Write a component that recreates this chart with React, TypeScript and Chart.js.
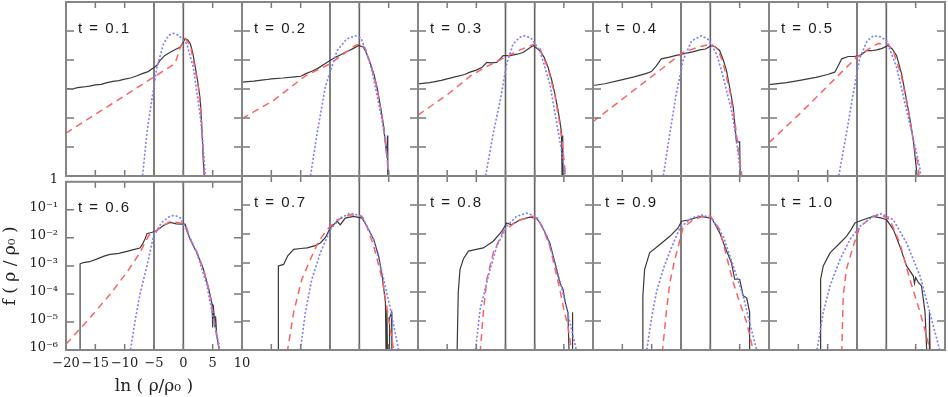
import React, { useEffect, useRef } from 'react';
import { Chart, registerables } from 'chart.js';

Chart.register(...registerables);

// Each point: [ln(rho/rho0), log10 f]
type Pt = [number, number];

const panelTimes = ['0.1', '0.2', '0.3', '0.4', '0.5', '0.6', '0.7', '0.8', '0.9', '1.0'];
const refLineValues = [-5, 0];
const xTickValues = [-20, -15, -10, -5, 0, 5, 10];
const xTickLabels = ['−20', '−15', '−10', '−5', '0', '5', '10'];
const yTickValues = [1e-6, 1e-5, 1e-4, 1e-3, 1e-2, 1e-1, 1];
const yTickLabels = ['10⁻⁶', '10⁻⁵', '10⁻⁴', '10⁻³', '10⁻²', '10⁻¹', '1'];
const xTitle = 'ln ( ρ/ρ₀ )';
const yTitle = 'f ( ρ / ρ₀ )';

// t = 0.1
const black01: Pt[] = [[-20, -2.98], [-19, -3.0], [-18, -2.95], [-17, -2.93], [-16, -2.9], [-15, -2.86], [-14, -2.84], [-13, -2.78], [-12, -2.74], [-11, -2.71], [-10, -2.66], [-9, -2.62], [-8, -2.55], [-7, -2.47], [-6, -2.4], [-5, -2.26], [-4.5, -2.18], [-4, -2.02], [-3.2, -1.85], [-2.3, -1.74], [-1.2, -1.62], [-0.5, -1.55], [0, -1.38], [0.3, -1.26], [0.8, -1.32], [1.2, -1.45], [1.6, -1.75], [2.0, -2.2], [2.5, -2.8], [2.9, -3.4], [3.2, -4.5], [3.4, -5.5], [3.6, -6.1]];
const red01: Pt[] = [[-20, -4.52], [-1.4, -2.12], [-0.5, -1.55], [0.3, -1.26], [1.2, -1.5], [2.0, -2.3], [2.6, -3.0], [3.0, -3.8], [3.3, -4.8], [3.5, -5.6], [3.7, -6.1]];
const blue01: Pt[] = [[-7.0, -6.1], [-6.2, -4.5], [-5.4, -3.4], [-4.5, -2.26], [-3.4, -1.45], [-2.5, -1.15], [-1.7, -1.08], [-0.8, -1.15], [0.6, -1.45], [1.7, -2.26], [2.9, -3.97], [3.3, -4.8], [3.7, -5.9], [3.9, -6.3]];

// t = 0.2
const black02: Pt[] = [[-20, -2.76], [-18, -2.73], [-16, -2.68], [-15, -2.65], [-13, -2.62], [-11, -2.58], [-10, -2.56], [-9.2, -2.48], [-8, -2.38], [-7, -2.28], [-6, -2.15], [-5, -2.02], [-4, -1.9], [-3, -1.8], [-2.5, -1.74], [-2, -1.7], [-1, -1.6], [-0.1, -1.5], [0.7, -1.56], [1.3, -1.8], [1.9, -2.13], [2.5, -2.5], [3.0, -2.93], [3.6, -3.6], [4.15, -4.3], [4.7, -5.33], [4.8, -4.6], [4.85, -6.1], [5.0, -6.1]];
const red02: Pt[] = [[-20, -4.02], [-14.6, -3.39], [-9.2, -2.55], [-5, -2.13], [-0.7, -1.5], [0.2, -1.43], [1.0, -1.6], [1.9, -2.13], [3.0, -2.95], [4.15, -4.3], [4.7, -5.3], [5.0, -6.1]];
const blue02: Pt[] = [[-8.4, -6.1], [-7.2, -4.53], [-5.8, -2.93], [-3.8, -1.68], [-2.2, -1.28], [-0.7, -1.16], [0.3, -1.25], [1.3, -1.8], [2.2, -2.4], [3.0, -3.2], [3.8, -4.0], [4.4, -4.76], [5.1, -6.1]];

// t = 0.3
const black03: Pt[] = [[-20, -2.82], [-18, -2.78], [-16, -2.7], [-14, -2.6], [-12, -2.5], [-11.1, -2.42], [-10, -2.35], [-9, -2.25], [-8.2, -2.08], [-7.5, -2.1], [-6.5, -2.08], [-5.4, -1.85], [-4.2, -1.85], [-3, -1.8], [-2.0, -1.74], [-1, -1.6], [-0.25, -1.5], [0.9, -1.68], [1.6, -1.9], [2.3, -2.25], [3.0, -2.75], [3.45, -3.16], [4.0, -3.73], [4.4, -4.2], [4.6, -4.53], [4.7, -6.1], [4.8, -4.6], [4.9, -6.1]];
const red03: Pt[] = [[-20, -3.9], [-15, -3.2], [-11, -2.55], [-8, -2.2], [-5, -1.9], [-2.5, -1.65], [0, -1.45], [0.9, -1.6], [2.3, -2.3], [3.45, -3.2], [4.3, -4.2], [4.8, -5.0], [5.2, -5.8], [5.4, -6.1]];
const blue03: Pt[] = [[-8.5, -6.1], [-7.1, -4.53], [-5.9, -3.39], [-4.8, -2.13], [-3.7, -1.45], [-2.6, -1.22], [-1.7, -1.16], [-0.6, -1.25], [0.9, -1.68], [2.6, -2.82], [3.7, -4.08], [4.5, -5.0], [5.2, -5.9], [5.4, -6.2]];

// t = 0.4
const black04: Pt[] = [[-20, -2.88], [-18, -2.82], [-15.5, -2.7], [-13, -2.58], [-11, -2.47], [-10.05, -2.4], [-9.2, -2.2], [-8.35, -1.96], [-7, -1.9], [-6, -1.85], [-4.65, -1.79], [-3, -1.72], [-1.8, -1.65], [-0.8, -1.62], [0.2, -1.5], [0.9, -1.55], [1.6, -1.68], [2.2, -2.0], [2.75, -2.36], [3.3, -2.95], [3.9, -3.62], [4.45, -4.82], [5.0, -4.82], [5.1, -6.1]];
const red04: Pt[] = [[-20, -4.13], [-15, -3.35], [-10, -2.57], [-4.65, -1.74], [-2, -1.55], [0.2, -1.45], [1.2, -1.62], [2.2, -2.1], [3.3, -3.05], [4.3, -4.3], [5.3, -5.9], [5.4, -6.1]];
const blue04: Pt[] = [[-8.1, -6.1], [-6.9, -4.53], [-5.8, -3.16], [-4.65, -2.02], [-3.2, -1.34], [-1.5, -1.16], [-0.3, -1.3], [1.05, -1.79], [1.9, -2.36], [2.75, -3.05], [3.6, -3.73], [4.45, -4.76], [5.0, -5.67], [5.3, -6.2]];

// t = 0.5
const black05: Pt[] = [[-20, -2.85], [-17, -2.78], [-14.75, -2.7], [-12, -2.6], [-10, -2.5], [-8.8, -2.42], [-8.2, -2.2], [-7.6, -1.96], [-6.5, -1.88], [-5.5, -1.88], [-4.5, -1.85], [-3.4, -1.68], [-2.5, -1.68], [-1.65, -1.65], [-0.7, -1.6], [0.3, -1.5], [1.0, -1.62], [1.75, -1.85], [2.6, -2.48], [3.45, -3.39], [4.0, -4.0], [4.6, -4.76], [5.2, -5.9], [5.3, -6.1]];
const red05: Pt[] = [[-20, -4.85], [-15, -3.9], [-10, -2.9], [-5.1, -1.91], [-2.5, -1.55], [-1.4, -1.43], [0.3, -1.45], [1.2, -1.7], [2.5, -2.5], [3.75, -3.73], [4.6, -4.8], [5.45, -5.67], [5.6, -6.1]];
const blue05: Pt[] = [[-8.2, -6.1], [-6.8, -4.53], [-5.65, -3.16], [-4.5, -1.91], [-3.3, -1.35], [-2.2, -1.16], [-1.0, -1.2], [0.05, -1.34], [1.75, -2.25], [3.45, -3.73], [4.9, -4.99], [5.7, -5.7], [5.9, -6.1]];

// t = 0.6
const black06: Pt[] = [[-17.6, -6.1], [-17.6, -2.93], [-17.05, -2.88], [-16, -2.85], [-14.8, -2.76], [-13.5, -2.65], [-12.5, -2.59], [-11, -2.55], [-9.6, -2.48], [-8.5, -2.42], [-7.4, -2.36], [-6.9, -2.2], [-6.5, -2.02], [-6.2, -1.85], [-5.3, -1.8], [-4.5, -1.74], [-3.4, -1.56], [-2.25, -1.45], [-1.2, -1.5], [-0.25, -1.51], [0.3, -1.51], [0.7, -1.8], [1.2, -2.08], [2.3, -2.53], [3.4, -3.1], [4.3, -3.79], [4.9, -4.36], [5.0, -5.2], [5.1, -4.4], [5.4, -5.16], [5.5, -4.8], [5.7, -5.5], [6.0, -5.85], [6.1, -6.1]];
const red06: Pt[] = [[-20, -5.79], [-16.5, -4.99], [-12.5, -4.02], [-9.6, -3.22], [-7.4, -2.53], [-5.9, -1.91], [-4.5, -1.72], [-3.4, -1.56], [-2.25, -1.42], [-0.25, -1.48], [0.5, -1.6], [1.2, -2.05], [2.3, -2.5], [3.4, -3.1], [4.3, -3.8], [5.0, -4.6], [5.5, -5.3], [6.0, -5.85], [6.2, -6.1]];
const blue06: Pt[] = [[-9.1, -6.1], [-8.2, -4.93], [-7.4, -4.02], [-6.2, -2.99], [-5.1, -1.96], [-3.7, -1.45], [-2.25, -1.22], [-1.4, -1.2], [-0.55, -1.28], [0.6, -1.74], [2.3, -2.53], [4.0, -3.67], [5.15, -4.93], [6.0, -5.73], [6.3, -6.1]];

// t = 0.7
const black07: Pt[] = [[-13.8, -6.1], [-13.8, -3.1], [-12.9, -3.05], [-12.2, -2.75], [-11.2, -2.53], [-10, -2.5], [-8.9, -2.48], [-7.5, -2.4], [-6.65, -2.31], [-5.8, -2.13], [-4.95, -1.79], [-3.8, -1.56], [-3.25, -1.68], [-2.4, -1.45], [-1.0, -1.39], [0.45, -1.45], [1.3, -1.74], [2.45, -2.19], [3.3, -2.76], [3.9, -3.45], [4.45, -4.36], [4.55, -6.1], [4.7, -4.6], [4.8, -6.1], [5.1, -6.1], [5.15, -4.9], [5.5, -4.7], [5.55, -6.1]];
const red07: Pt[] = [[-12.3, -6.1], [-11.2, -4.7], [-9.8, -3.56], [-8.35, -2.88], [-6.95, -2.25], [-5.5, -1.85], [-3.8, -1.51], [-1.55, -1.34], [0.45, -1.39], [1.3, -1.75], [2.45, -2.42], [3.9, -3.56], [5.0, -4.93], [5.85, -6.0], [6.0, -6.1]];
const blue07: Pt[] = [[-10.1, -6.1], [-9.2, -4.7], [-8.1, -3.56], [-6.65, -2.65], [-4.95, -1.85], [-3.25, -1.45], [-1.55, -1.28], [0.45, -1.39], [2.45, -2.19], [4.15, -3.56], [5.3, -4.59], [6.7, -6.0], [6.8, -6.1]];

// t = 0.8
const black08: Pt[] = [[-13.3, -6.1], [-13.1, -4.0], [-12.8, -3.22], [-12.2, -2.85], [-11.35, -2.59], [-10, -2.53], [-8.8, -2.48], [-7.1, -2.25], [-5.65, -1.91], [-5.0, -1.7], [-4.8, -1.62], [-3.95, -1.68], [-2.5, -1.51], [-0.8, -1.42], [0.3, -1.45], [1.15, -1.68], [2.6, -2.31], [3.45, -2.99], [4.3, -3.67], [4.85, -3.9], [5.3, -4.4], [5.7, -4.7], [5.9, -6.1], [6.4, -6.1], [6.45, -4.7], [6.55, -6.1]];
const red08: Pt[] = [[-9.35, -6.1], [-8.8, -4.7], [-8.2, -3.56], [-7.1, -2.65], [-5.4, -1.91], [-3.1, -1.56], [-0.4, -1.39], [0.6, -1.5], [1.5, -1.85], [2.6, -2.42], [4.3, -3.9], [5.1, -4.7], [5.7, -5.16], [6.3, -6.0], [6.4, -6.1]];
const blue08: Pt[] = [[-10.2, -6.1], [-9.35, -4.59], [-7.65, -3.22], [-6.5, -2.42], [-4.8, -1.74], [-3.1, -1.39], [-1.4, -1.28], [0.3, -1.39], [2.0, -2.02], [3.75, -3.16], [5.45, -4.53], [7.15, -6.0], [7.3, -6.1]];

// t = 0.9
const black09: Pt[] = [[-11.5, -6.1], [-11.5, -4.13], [-11.2, -3.22], [-10.35, -2.65], [-8.6, -2.36], [-6.9, -2.08], [-5.5, -1.79], [-4.9, -1.56], [-3.5, -1.51], [-1.8, -1.39], [0.2, -1.45], [0.9, -1.7], [1.6, -1.96], [2.45, -2.42], [3.6, -2.99], [4.15, -3.56], [5.0, -3.56], [5.6, -4.13], [6.2, -4.2], [6.7, -4.7], [6.7, -6.1]];
const red09: Pt[] = [[-8.2, -6.1], [-7.5, -4.7], [-6.9, -3.67], [-6.05, -2.88], [-4.65, -1.79], [-2.95, -1.51], [-1.25, -1.39], [0.05, -1.39], [1.6, -1.85], [2.75, -2.76], [3.9, -3.67], [5.0, -4.36], [6.2, -5.05], [7.3, -6.0], [7.4, -6.1]];
const blue09: Pt[] = [[-10.9, -6.1], [-10.05, -4.93], [-9.2, -4.02], [-8.05, -3.22], [-6.65, -2.48], [-5.2, -1.79], [-3.2, -1.45], [-1.25, -1.34], [0.4, -1.51], [2.2, -2.08], [3.9, -3.1], [5.6, -4.13], [6.7, -5.05], [7.9, -6.0], [8.0, -6.1]];

// t = 1.0
const black10: Pt[] = [[-11.2, -6.1], [-11.2, -3.56], [-10.75, -3.1], [-9.6, -2.65], [-7.9, -2.31], [-6.8, -2.08], [-6.0, -1.85], [-5.35, -1.62], [-3.95, -1.51], [-2.25, -1.39], [-0.8, -1.45], [0.05, -1.51], [1.2, -1.85], [2.3, -2.42], [3.45, -3.1], [4.6, -3.45], [4.8, -3.7], [5.0, -3.5], [5.45, -3.67], [6.0, -3.79], [6.6, -4.7], [6.9, -6.1], [7.3, -6.1], [7.35, -4.7], [7.45, -6.1]];
const red10: Pt[] = [[-7.6, -6.1], [-7.35, -4.13], [-6.8, -3.22], [-5.65, -2.42], [-4.5, -1.74], [-2.25, -1.39], [-1.1, -1.31], [0.6, -1.51], [2.3, -2.31], [4.0, -3.56], [5.75, -4.7], [6.85, -5.5], [7.4, -6.0], [7.5, -6.1]];
const blue10: Pt[] = [[-11.9, -6.1], [-10.75, -4.7], [-9.6, -3.79], [-7.9, -2.88], [-6.2, -2.19], [-4.5, -1.74], [-2.25, -1.39], [-0.8, -1.3], [1.2, -1.51], [3.45, -2.31], [5.75, -3.45], [7.4, -4.7], [9.1, -6.0], [9.2, -6.1]];

const blackSeries = [black01, black02, black03, black04, black05, black06, black07, black08, black09, black10];
const redSeries = [red01, red02, red03, red04, red05, red06, red07, red08, red09, red10];
const blueSeries = [blue01, blue02, blue03, blue04, blue05, blue06, blue07, blue08, blue09, blue10];

// layout (page pixels)
const colEdges = [66, 242, 418, 593, 769, 945];
const rowEdges = [2, 176, 350];

const toXY = (pts: Pt[]) => pts.map(([x, l]) => ({ x, y: Math.pow(10, l) }));

function Panel({ idx }: { idx: number }) {
  const ref = useRef<HTMLCanvasElement>(null);
  const col = idx % 5;
  const row = Math.floor(idx / 5);
  const L = colEdges[col];
  const R = colEdges[col + 1];
  const T = rowEdges[row];
  const B = rowEdges[row + 1];
  const labeled = col === 0 && row === 1;
  // labeled panel: canvas symmetric about the plot so axis titles centre on the plot
  const pad = labeled ? { left: 0, top: 10, right: L, bottom: 0 } : { left: 4, top: 4, right: 4, bottom: 4 };
  const cLeft = labeled ? 0 : L - 4;
  const cTop = T - pad.top;
  const cW = labeled ? R + L : R - L + 8;
  const cH = labeled ? 397 - cTop : B - T + 8;

  useEffect(() => {
    const canvas = ref.current;
    if (!canvas) return;
    const label = 't = ' + panelTimes[idx];
    const decor = {
      id: 'decor',
      beforeDatasetsDraw(chart: any) {
        const { ctx, chartArea: a, scales } = chart;
        ctx.save();
        ctx.strokeStyle = '#606060';
        ctx.lineWidth = 1.6;
        for (const v of refLineValues) {
          const px = scales.x.getPixelForValue(v);
          ctx.beginPath();
          ctx.moveTo(px, a.top);
          ctx.lineTo(px, a.bottom);
          ctx.stroke();
        }
        ctx.restore();
      },
      afterDatasetsDraw(chart: any) {
        const { ctx, chartArea: a, scales } = chart;
        ctx.save();
        ctx.strokeStyle = '#7a7a7a';
        ctx.lineWidth = 1.5;
        for (const v of xTickValues) {
          const px = scales.x.getPixelForValue(v);
          if (px <= a.left + 1 || px >= a.right - 1) continue;
          ctx.beginPath();
          ctx.moveTo(px, a.bottom);
          ctx.lineTo(px, a.bottom - 6);
          ctx.moveTo(px, a.top);
          ctx.lineTo(px, a.top + 6);
          ctx.stroke();
        }
        for (const v of yTickValues) {
          const py = scales.y.getPixelForValue(v);
          if (py <= a.top + 1 || py >= a.bottom - 1) continue;
          ctx.beginPath();
          ctx.moveTo(a.left, py);
          ctx.lineTo(a.left + 8, py);
          ctx.moveTo(a.right, py);
          ctx.lineTo(a.right - 8, py);
          ctx.stroke();
        }
        ctx.strokeStyle = '#858585';
        ctx.lineWidth = 2;
        ctx.strokeRect(a.left, a.top, a.right - a.left, a.bottom - a.top);
        ctx.fillStyle = '#1a1a1a';
        ctx.font = '15px "Liberation Sans", Arial, sans-serif';
        try { (ctx as any).letterSpacing = '1.5px'; } catch (e) {}
        ctx.textBaseline = 'alphabetic';
        ctx.textAlign = 'left';
        ctx.fillText(label, a.left + 12, a.top + 30.5);
        ctx.restore();
      },
    };

    const serif = { family: '"DejaVu Serif", "Liberation Serif", serif', size: 13 };
    const titleFont = { family: '"DejaVu Serif", "Liberation Serif", serif', size: 17 };
    const xScale: any = {
      type: 'linear',
      min: -20,
      max: 10,
      display: labeled,
      grid: { display: false, drawTicks: false },
      border: { display: false },
      afterBuildTicks: (s: any) => { s.ticks = xTickValues.map((v) => ({ value: v })); },
      ticks: {
        autoSkip: false,
        maxRotation: 0,
        padding: 6,
        color: '#222',
        font: serif,
        callback: (_v: any, i: number) => xTickLabels[i],
      },
      title: {
        display: labeled,
        text: xTitle,
        color: '#222',
        font: titleFont,
        padding: { top: 0, bottom: 0 },
      },
    };
    const yScale: any = {
      type: 'logarithmic',
      min: 1e-6,
      max: 1,
      display: labeled,
      grid: { display: false, drawTicks: false },
      border: { display: false },
      afterBuildTicks: (s: any) => { s.ticks = yTickValues.map((v) => ({ value: v })); },
      ticks: {
        autoSkip: false,
        padding: 8,
        labelOffset: -2.5,
        color: '#222',
        font: serif,
        callback: (_v: any, i: number) => yTickLabels[i],
      },
      title: {
        display: labeled,
        text: yTitle,
        color: '#222',
        font: titleFont,
        padding: { top: 0, bottom: 0 },
      },
    };
    if (labeled) {
      xScale.afterFit = (s: any) => { s.height = 47; };
      yScale.afterFit = (s: any) => { s.width = 66; };
    }

    const chart = new Chart(canvas, {
      type: 'scatter',
      data: {
        datasets: [
          {
            data: toXY(blueSeries[idx]),
            showLine: true,
            borderColor: '#8282ff',
            borderWidth: 1.8,
            borderDash: [0.5, 3.5],
            borderCapStyle: 'round',
            pointRadius: 0,
          },
          {
            data: toXY(redSeries[idx]),
            showLine: true,
            borderColor: '#ff6262',
            borderWidth: 1.5,
            borderDash: [7, 5],
            pointRadius: 0,
          },
          {
            data: toXY(blackSeries[idx]),
            showLine: true,
            borderColor: '#3a3a3a',
            borderWidth: 1.2,
            pointRadius: 0,
          },
        ],
      } as any,
      options: {
        responsive: false,
        animation: false,
        events: [],
        layout: { padding: pad },
        plugins: { legend: { display: false }, tooltip: { enabled: false } },
        scales: { x: xScale, y: yScale },
      } as any,
      plugins: [decor],
    });
    return () => chart.destroy();
  }, [idx]);

  return (
    <canvas
      ref={ref}
      width={cW}
      height={cH}
      style={{ position: 'absolute', left: cLeft, top: cTop, width: cW, height: cH }}
    />
  );
}

export default function App() {
  return (
    <div style={{ position: 'absolute', left: 0, top: 0, width: 948, height: 397, background: '#fff', overflow: 'hidden' }}>
      {panelTimes.map((_, i) => (
        <Panel key={i} idx={i} />
      ))}
    </div>
  );
}
